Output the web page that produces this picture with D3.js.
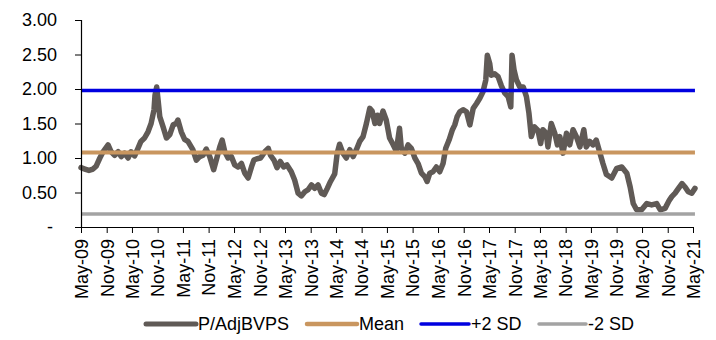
<!DOCTYPE html>
<html><head><meta charset="utf-8">
<script src="https://cdn.jsdelivr.net/npm/d3@7"></script>
<style>
html,body{margin:0;padding:0;background:#fff;}
svg text{font-family:Arial,"Liberation Sans",sans-serif;}
</style></head>
<body><svg id="c" width="716" height="340"></svg>
<script>
const dates = ["2009-05-01","2009-05-29","2009-06-27","2009-07-26","2009-08-17","2009-09-13","2009-10-06","2009-11-11","2009-12-03","2009-12-28",
"2010-01-22","2010-02-13","2010-03-09","2010-04-03","2010-04-24","2010-05-20","2010-06-13","2010-07-04","2010-07-30","2010-08-24",
"2010-09-15","2010-10-06","2010-10-13","2010-10-25","2010-11-04","2010-11-16","2010-12-10","2011-01-03","2011-01-27","2011-02-20",
"2011-03-14","2011-03-26","2011-04-19","2011-05-13","2011-06-06","2011-07-11","2011-08-05","2011-08-29","2011-09-22","2011-10-15",
"2011-11-09","2011-12-07","2011-12-26","2012-01-20","2012-02-06","2012-02-25","2012-03-19","2012-04-12","2012-05-06","2012-05-29",
"2012-06-23","2012-07-17","2012-08-10","2012-09-03","2012-09-20","2012-10-13","2012-11-07","2012-12-08","2013-01-01","2013-01-17",
"2013-02-11","2013-03-05","2013-03-28","2013-04-22","2013-05-15","2013-06-15","2013-07-09","2013-08-03","2013-08-26","2013-09-20",
"2013-10-13","2013-11-07","2013-11-30","2013-12-24","2014-01-17","2014-02-06","2014-02-28","2014-03-23","2014-04-22","2014-05-10",
"2014-05-27","2014-06-20","2014-07-14","2014-08-08","2014-09-01","2014-09-24","2014-10-18","2014-11-11","2014-12-05","2014-12-29",
"2015-01-15","2015-02-04","2015-02-22","2015-03-09","2015-04-03","2015-04-26","2015-05-20","2015-06-13","2015-07-07","2015-07-30",
"2015-08-12","2015-09-06","2015-09-29","2015-10-23","2015-11-17","2015-12-10","2016-01-03","2016-01-27","2016-02-13","2016-03-03",
"2016-03-26","2016-04-19","2016-05-13","2016-06-06","2016-06-25","2016-07-19","2016-08-12","2016-08-29","2016-09-15","2016-10-04",
"2016-10-27","2016-11-21","2016-12-15","2017-01-08","2017-02-01","2017-02-25","2017-03-19","2017-04-08","2017-04-19","2017-05-06",
"2017-05-17","2017-06-11","2017-07-05","2017-07-28","2017-08-22","2017-09-15","2017-10-04","2017-10-13","2017-10-27","2017-11-14",
"2017-12-08","2018-01-01","2018-01-24","2018-02-11","2018-02-28","2018-03-23","2018-04-17","2018-05-06","2018-05-22","2018-06-15",
"2018-06-27","2018-07-21","2018-08-15","2018-09-03","2018-09-20","2018-10-13","2018-11-07","2018-11-30","2018-12-24","2019-01-17",
"2019-02-11","2019-03-11","2019-03-28","2019-04-22","2019-05-15","2019-06-08","2019-07-02","2019-07-26","2019-08-20","2019-09-27",
"2019-11-02","2019-12-08","2020-01-13","2020-02-06","2020-02-28","2020-03-23","2020-04-28","2020-06-04","2020-07-09","2020-08-14",
"2020-09-08","2020-10-13","2020-11-13","2020-11-30","2020-12-24","2021-01-17","2021-02-11","2021-03-05","2021-03-28","2021-04-22",
"2021-05-15"];
const pbv = [0.86,0.84,0.82,0.84,0.88,1.00,1.09,1.19,1.09,1.04,
1.09,1.02,1.07,1.00,1.09,1.03,1.14,1.24,1.29,1.38,
1.50,1.70,1.91,2.03,1.84,1.60,1.45,1.29,1.34,1.48,
1.50,1.55,1.38,1.27,1.24,1.12,0.97,1.02,1.04,1.13,
1.02,0.83,0.97,1.16,1.26,1.09,1.00,1.02,0.90,0.87,
0.92,0.78,0.71,0.87,0.97,0.99,1.00,1.09,1.14,1.04,
0.97,0.86,0.95,0.87,0.90,0.80,0.68,0.49,0.45,0.51,
0.54,0.61,0.56,0.61,0.49,0.47,0.56,0.66,0.77,1.07,
1.20,1.07,1.00,1.12,1.02,1.12,1.24,1.31,1.50,1.72,
1.68,1.50,1.62,1.50,1.68,1.55,1.29,1.20,1.10,1.43,
1.14,1.07,1.19,1.14,1.00,0.92,0.78,0.73,0.66,0.78,
0.80,0.87,0.80,0.92,1.14,1.26,1.41,1.48,1.60,1.67,
1.70,1.67,1.48,1.72,1.79,1.87,1.96,2.13,2.49,2.37,
2.20,2.22,2.18,2.05,1.94,1.89,1.74,2.49,2.28,2.13,
2.03,2.03,1.89,1.65,1.31,1.45,1.40,1.21,1.41,1.36,
1.16,1.50,1.36,1.19,1.31,1.07,1.36,1.19,1.41,1.31,
1.16,1.41,1.16,1.24,1.19,1.26,1.09,0.92,0.76,0.71,
0.85,0.87,0.78,0.58,0.34,0.25,0.25,0.34,0.32,0.34,
0.25,0.27,0.39,0.44,0.49,0.56,0.63,0.58,0.51,0.49,
0.56];
const meanVal = 1.08;
const plus2SD = 1.98;
const minus2SD = 0.19;
const yTicks = [0, 0.5, 1.0, 1.5, 2.0, 2.5, 3.0];
const xTickLabels = ["May-09","Nov-09","May-10","Nov-10","May-11","Nov-11","May-12","Nov-12","May-13","Nov-13","May-14","Nov-14",
  "May-15","Nov-15","May-16","Nov-16","May-17","Nov-17","May-18","Nov-18","May-19","Nov-19","May-20","Nov-20","May-21"];
const legendNames = ["P/AdjBVPS","Mean","+2 SD","-2 SD"];
const colors = {series:"#605a56", mean:"#c9965f", plus:"#0000e0", minus:"#a3a3a3"};

const parse = d3.timeParse("%Y-%m-%d");
const parseTick = d3.timeParse("%b-%y");
const xTicks = xTickLabels.map(parseTick);
const data = dates.map((d,i)=>({date:parse(d), v:pbv[i]}));
const svg = d3.select("#c");
const x = d3.scaleTime().domain([xTicks[0], xTicks[xTicks.length-1]]).range([81, 693]);
const y = d3.scaleLinear().domain([0,3]).range([227, 20]);
const fmt = d3.timeFormat("%b-%y");

// series
const line = d3.line().x(d=>x(d.date)).y(d=>y(d.v)).curve(d3.curveLinear);
svg.append("path").datum(data).attr("d", line).attr("fill","none")
  .attr("stroke", colors.series).attr("stroke-width", 5.5).attr("stroke-linejoin","round").attr("stroke-linecap","round");

// reference lines
const x0 = x(data[0].date), x1 = x(data[data.length-1].date);
[[meanVal, colors.mean, 4],[plus2SD, colors.plus, 3.5],[minus2SD, colors.minus, 3.5]].forEach(([v,c,w])=>{
  svg.append("line").attr("x1",x0).attr("x2",x1).attr("y1",y(v)).attr("y2",y(v))
    .attr("stroke",c).attr("stroke-width",w);
});

// y axis
const yAxis = d3.axisLeft(y).tickValues(yTicks).tickSize(6).tickPadding(18)
  .tickFormat(d=> d===0 ? "-" : d3.format(".2f")(d));
const gy = svg.append("g").attr("transform","translate(81,0)").call(yAxis);
gy.select(".domain").attr("stroke","#000").attr("stroke-width",1.2);
gy.selectAll(".tick line").attr("stroke","#000");
gy.selectAll("text").attr("font-size",18).attr("fill","#000").attr("font-family","Arial, 'Liberation Sans', sans-serif");
gy.selectAll(".tick").filter(d=>d===0).select("text").attr("dx",-4);

// x axis
const xAxis = d3.axisBottom(x).tickValues(xTicks).tickSize(6).tickSizeOuter(0).tickFormat(fmt);
const gx = svg.append("g").attr("transform","translate(0,227)").call(xAxis);
gx.select(".domain").attr("stroke","#000").attr("stroke-width",1.2);
gx.selectAll(".tick line").attr("stroke","#000");
gx.selectAll("text").attr("font-size",18).attr("fill","#000").attr("font-family","Arial, 'Liberation Sans', sans-serif")
  .attr("transform","rotate(-90)").attr("text-anchor","end").attr("x",-12).attr("y",0).attr("dy","0.35em");

// legend
const legendItems = [
  {name:legendNames[0], c:colors.series, w:5, x:146, len:50},
  {name:legendNames[1], c:colors.mean, w:4.5, x:307, len:50},
  {name:legendNames[2], c:colors.plus, w:3.5, x:421, len:48},
  {name:legendNames[3], c:colors.minus, w:3.5, x:539, len:47}
];
const ly = 324;
const lg = svg.append("g");
legendItems.forEach(it=>{
  lg.append("line").attr("x1",it.x).attr("x2",it.x+it.len).attr("y1",ly).attr("y2",ly)
    .attr("stroke",it.c).attr("stroke-width",it.w).attr("stroke-linecap","round");
  lg.append("text").attr("x",it.x+it.len+2).attr("y",ly).attr("dy","0.35em")
    .attr("font-size",18).attr("fill","#000").text(it.name);
});
</script></body></html>
